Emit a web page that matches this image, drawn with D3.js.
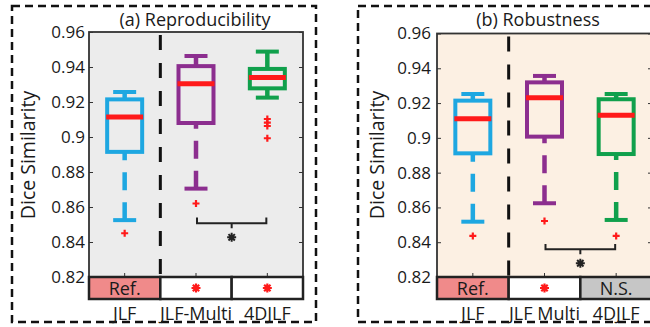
<!DOCTYPE html>
<html>
<head>
<meta charset="utf-8">
<script src="https://cdn.jsdelivr.net/npm/d3@7"></script>
<style>
  body { margin: 0; background: #fff; }
  svg { display: block; }
  text { font-family: "Open Sans", "DejaVu Sans", sans-serif; fill: #1a1a1a; }
</style>
</head>
<body>
<div id="chart"></div>
<script>
// ---------------------- data ----------------------
var yTicks = [0.82, 0.84, 0.86, 0.88, 0.9, 0.92, 0.94, 0.96];

// (a) Reproducibility
var catsA = ["JLF", "JLF-Multi", "4DJLF"];
var lowA  = [0.8525, 0.8705, 0.9225];
var q1A   = [0.8915, 0.9080, 0.9278];
var medA  = [0.9115, 0.9305, 0.9340];
var q3A   = [0.9215, 0.9405, 0.9389];
var highA = [0.9257, 0.9463, 0.9488];
var outA  = [[0.845], [0.862], [0.9103, 0.9082, 0.9063, 0.8993]];
var sigA  = ["Ref.", "*", "*"];
var bracketA = [0.8507, 0.8540, 0.8427];   // bar, bar ends, star

// (b) Robustness
var catsB = ["JLF", "JLF Multi", "4DJLF"];
var lowB  = [0.8518, 0.8624, 0.8528];
var q1B   = [0.8911, 0.9007, 0.8907];
var medB  = [0.9110, 0.9231, 0.9130];
var q3B   = [0.9214, 0.9319, 0.9222];
var highB = [0.9252, 0.9356, 0.9252];
var outB  = [[0.8436], [0.8522], [0.8436]];
var sigB  = ["Ref.", "*", "N.S."];
var bracketB = [0.8359, 0.8390, 0.8279];

var boxColors = ["#1ea7e1", "#8c2e8f", "#10a04c"];
var red = "#ff1a1a";

// ---------------------- svg ----------------------
var svg = d3.select("#chart")
     .append("svg")
     .attr("width", 650)
     .attr("height", 327);

// star marker (matlab '*') as a path
function starPath(r) {
  var p = "";
  for (var i = 0; i < 4; i++) {
    var a = i * Math.PI / 4;
    var dx = r * Math.cos(a), dy = r * Math.sin(a);
    p += "M" + (-dx) + "," + (-dy) + "L" + dx + "," + dy;
  }
  return p;
}

function drawPanel(o) {
  var g = svg.append("g");

  var x = d3.scaleBand().domain(o.cats).range([o.left, o.right]);
  var y = d3.scaleLinear().domain([0.82, 0.96]).range([o.bottom, o.top]);
  var cx = function(i) { return x(o.cats[i]) + x.bandwidth() / 2; };

  // dashed outer frame
  g.append("rect")
     .attr("x", o.fx).attr("y", 6)
     .attr("width", o.fw).attr("height", 316)
     .attr("fill", "none")
     .attr("stroke", "#111")
     .attr("stroke-width", 2.5)
     .attr("stroke-dasharray", "8,5");

  // title
  g.append("text")
     .text(o.title)
     .attr("x", o.titleX).attr("y", 26)
     .attr("text-anchor", "middle")
     .style("font-size", "18px");

  // plot background
  g.append("rect")
     .attr("x", o.left).attr("y", o.top)
     .attr("width", o.right - o.left).attr("height", o.bottom - o.top)
     .attr("fill", o.bg);

  // reference separator
  g.append("line")
     .attr("x1", x(o.cats[1])).attr("x2", x(o.cats[1]))
     .attr("y1", o.top + 3).attr("y2", o.bottom)
     .attr("stroke", "#111")
     .attr("stroke-width", 3)
     .attr("stroke-dasharray", "15,13");

  // axes (matlab style inward ticks)
  var ax = g.append("g")
     .attr("transform", "translate(" + o.left + ",0)")
     .call(d3.axisLeft(y).tickValues(yTicks).tickSize(-4).tickPadding(o.pad)
          .tickFormat(function(d) { return String(+d.toFixed(2)); }));
  ax.select(".domain").remove();
  ax.selectAll("text").style("font-size", "17px").attr("fill", "#1a1a1a");
  ax.selectAll("line").attr("stroke", "#333");

  var axr = g.append("g")
     .attr("transform", "translate(" + o.right + ",0)")
     .call(d3.axisRight(y).tickValues(yTicks).tickSize(-4).tickFormat(""));
  axr.select(".domain").remove();
  axr.selectAll("line").attr("stroke", "#333");

  var axb = g.append("g")
     .attr("transform", "translate(0," + o.bottom + ")")
     .call(d3.axisBottom(x).tickSize(-4).tickFormat(""));
  axb.select(".domain").remove();
  axb.selectAll("line").attr("stroke", "#333");

  g.append("rect")
     .attr("x", o.left).attr("y", o.top)
     .attr("width", o.right - o.left).attr("height", o.bottom - o.top)
     .attr("fill", "none")
     .attr("stroke", "#333")
     .attr("stroke-width", 1.8);

  // boxes
  var idx = d3.range(o.cats.length);
  var boxes = g.selectAll("g.box").data(idx).enter().append("g").attr("class", "box");

  // whiskers, dashed from cap towards box
  boxes.append("line")
     .attr("x1", cx).attr("x2", cx)
     .attr("y1", function(i) { return y(o.low[i]); })
     .attr("y2", function(i) { return y(o.q1[i]); })
     .attr("stroke", function(i) { return boxColors[i]; })
     .attr("stroke-width", 4.5)
     .attr("stroke-dasharray", "18,12");
  boxes.append("line")
     .attr("x1", cx).attr("x2", cx)
     .attr("y1", function(i) { return y(o.high[i]); })
     .attr("y2", function(i) { return y(o.q3[i]); })
     .attr("stroke", function(i) { return boxColors[i]; })
     .attr("stroke-width", 4.5)
     .attr("stroke-dasharray", "18,12");

  // caps
  [o.low, o.high].forEach(function(arr) {
    boxes.append("line")
       .attr("x1", function(i) { return cx(i) - 11.5; })
       .attr("x2", function(i) { return cx(i) + 11.5; })
       .attr("y1", function(i) { return y(arr[i]); })
       .attr("y2", function(i) { return y(arr[i]); })
       .attr("stroke", function(i) { return boxColors[i]; })
       .attr("stroke-width", 4);
  });

  boxes.append("rect")
     .attr("x", function(i) { return cx(i) - 17.5; })
     .attr("width", 35)
     .attr("y", function(i) { return y(o.q3[i]); })
     .attr("height", function(i) { return y(o.q1[i]) - y(o.q3[i]); })
     .attr("fill", "none")
     .attr("stroke", function(i) { return boxColors[i]; })
     .attr("stroke-width", 4);

  boxes.append("line")
     .attr("x1", function(i) { return cx(i) - 18.5; })
     .attr("x2", function(i) { return cx(i) + 18.5; })
     .attr("y1", function(i) { return y(o.med[i]); })
     .attr("y2", function(i) { return y(o.med[i]); })
     .attr("stroke", red)
     .attr("stroke-width", 5);

  // outliers
  idx.forEach(function(i) {
    g.selectAll(null).data(o.out[i]).enter().append("path")
       .attr("transform", function(d) { return "translate(" + cx(i) + "," + y(d) + ")"; })
       .attr("d", "M-3.5,0L3.5,0M0,-3.5L0,3.5")
       .attr("stroke", red)
       .attr("stroke-width", 2.2);
  });

  // significance bracket between cats 1 and 2
  var b = o.bracket;
  var bx1 = cx(1) + 1, bx2 = cx(2) - 1, bm = (bx1 + bx2) / 2;
  g.append("path")
     .attr("d", "M" + bx1 + "," + y(b[1]) + "L" + bx1 + "," + y(b[0]) +
                "L" + bx2 + "," + y(b[0]) + "L" + bx2 + "," + y(b[1]) +
                "M" + bm + "," + y(b[0]) + "L" + bm + "," + (y(b[0]) + 5))
     .attr("fill", "none")
     .attr("stroke", "#222")
     .attr("stroke-width", 2);
  g.append("path")
     .attr("transform", "translate(" + bm + "," + y(b[2]) + ")")
     .attr("d", starPath(4.5))
     .attr("stroke", "#222")
     .attr("stroke-width", 2);

  // significance strip under the axis
  var strip = g.selectAll("g.strip").data(idx).enter().append("g").attr("class", "strip");
  strip.append("rect")
     .attr("x", function(i) { return x(o.cats[i]); })
     .attr("y", o.bottom)
     .attr("width", x.bandwidth())
     .attr("height", 22)
     .attr("fill", function(i) {
        return o.sig[i] === "Ref." ? "#f08a8a" : o.sig[i] === "N.S." ? "#c6c6c6" : "#fff";
     })
     .attr("stroke", "#222")
     .attr("stroke-width", 2.5);
  strip.filter(function(i) { return o.sig[i] !== "*"; })
     .append("text")
     .text(function(i) { return o.sig[i]; })
     .attr("x", cx)
     .attr("y", o.bottom + 18)
     .attr("text-anchor", "middle")
     .style("font-size", "18px");
  strip.filter(function(i) { return o.sig[i] === "*"; })
     .append("path")
     .attr("transform", function(i) { return "translate(" + cx(i) + "," + (o.bottom + 11) + ")"; })
     .attr("d", starPath(4.5))
     .attr("stroke", red)
     .attr("stroke-width", 2.2);

  // category labels
  g.selectAll("text.cat").data(o.cats).enter().append("text")
     .attr("class", "cat")
     .text(function(d) { return d; })
     .attr("x", function(d) { return x(d) + x.bandwidth() / 2; })
     .attr("y", 320)
     .attr("text-anchor", "middle")
     .style("font-size", "18px");

  // y label
  g.append("text")
     .text("Dice Similarity")
     .attr("transform", "translate(" + o.ylabX + ",155) rotate(-90)")
     .attr("text-anchor", "middle")
     .style("font-size", "19.5px");
}

// ---------------------- (a) ----------------------
drawPanel({
  title: "(a) Reproducibility", titleX: 195,
  cats: catsA, low: lowA, q1: q1A, med: medA, q3: q3A, high: highA,
  out: outA, sig: sigA, bracket: bracketA,
  left: 89, right: 303, top: 32, bottom: 277, pad: 4,
  fx: 12, fw: 304, bg: "#ececec", ylabX: 35
});

// ---------------------- (b) ----------------------
drawPanel({
  title: "(b) Robustness", titleX: 538,
  cats: catsB, low: lowB, q1: q1B, med: medB, q3: q3B, high: highB,
  out: outB, sig: sigB, bracket: bracketB,
  left: 437, right: 652, top: 33.5, bottom: 277, pad: 6,
  fx: 358, fw: 340, bg: "#fcf0e3", ylabX: 384
});
</script>
</body>
</html>
